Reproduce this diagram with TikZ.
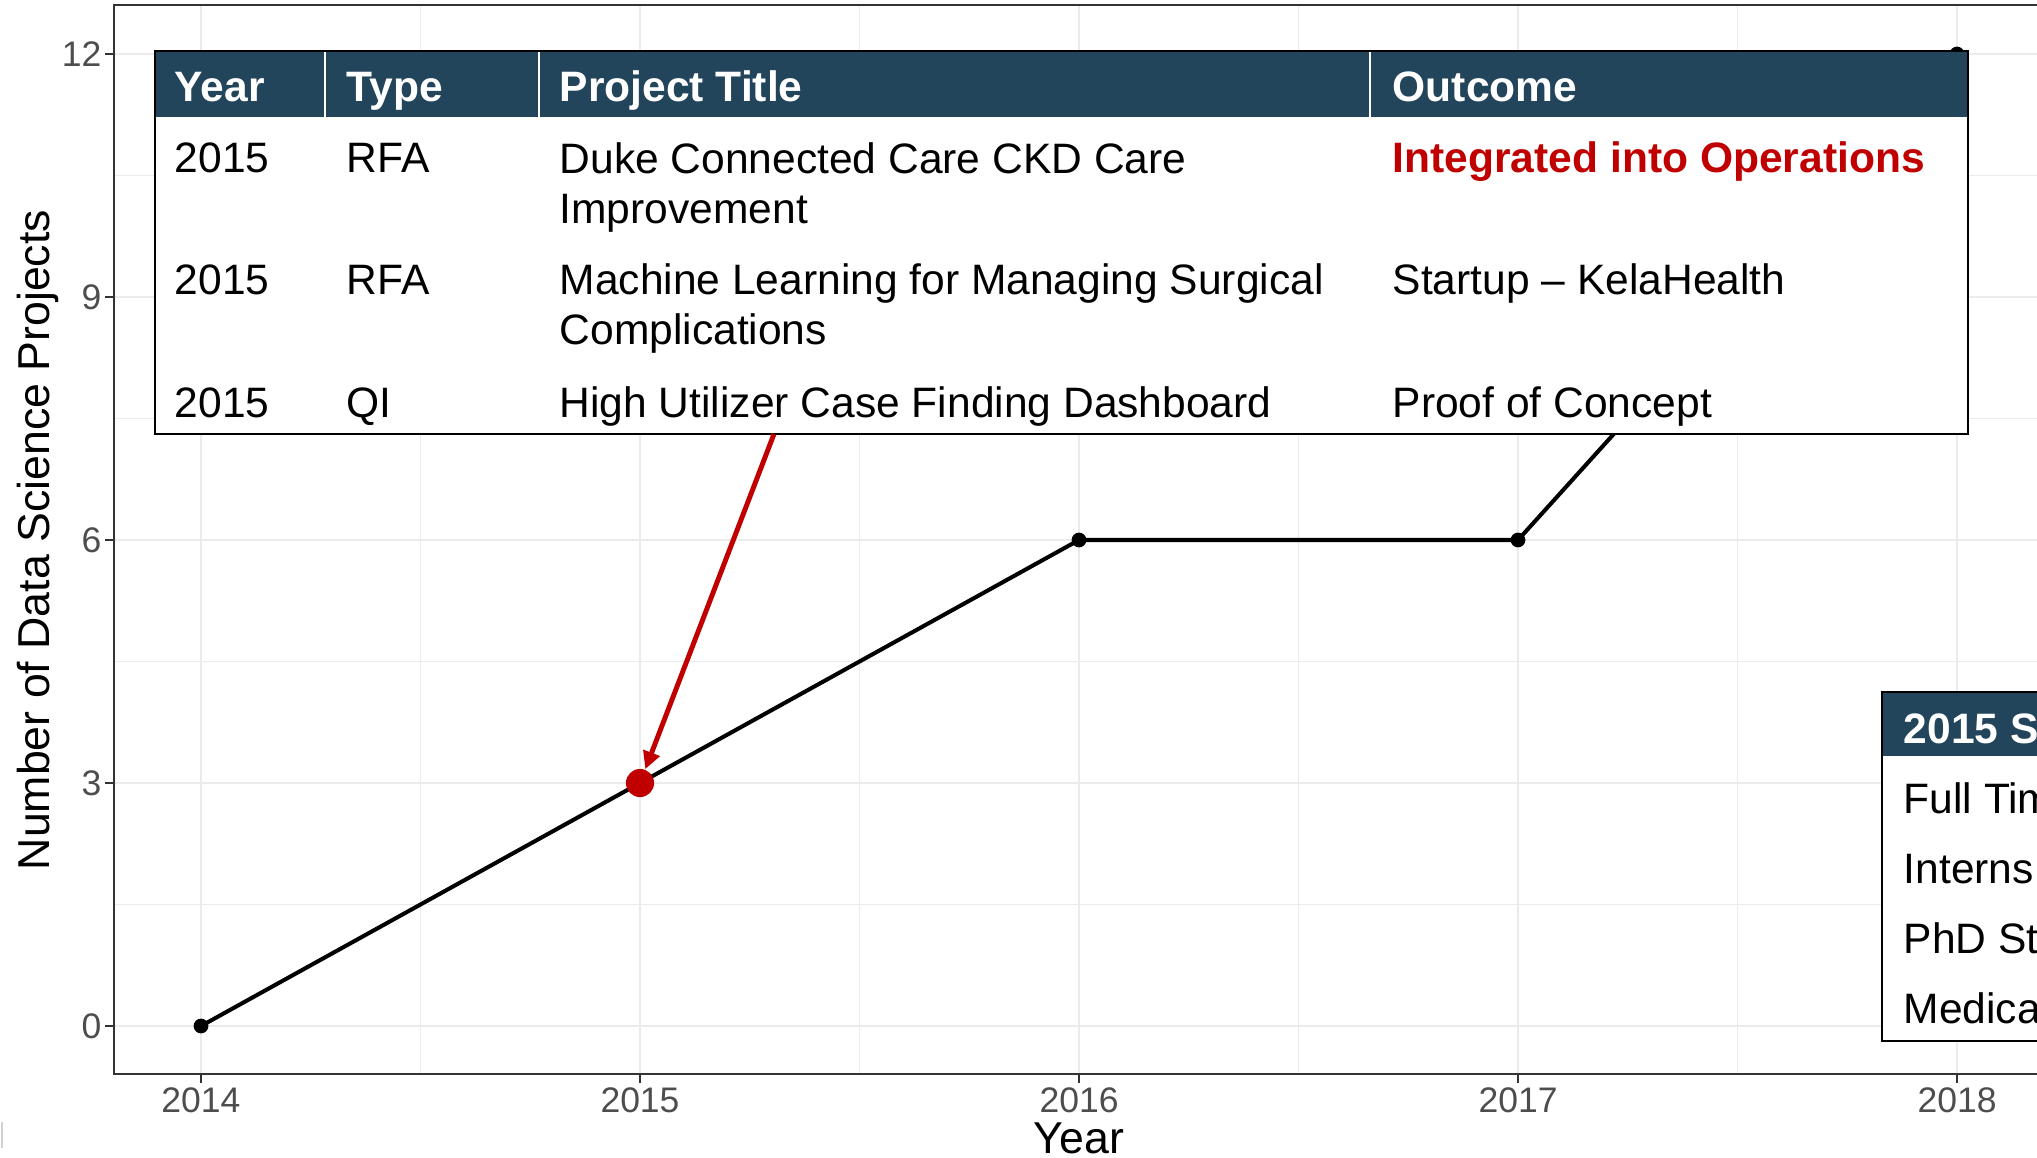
\documentclass[tikz,border=0pt]{standalone}
\usepackage{fontspec}
\setmainfont{Liberation Sans}
\usetikzlibrary{arrows.meta}

\definecolor{hdrblue}{RGB}{34,69,92}
\definecolor{hired}{RGB}{192,0,0}
\definecolor{gridgray}{RGB}{235,235,235}
\definecolor{axisgray}{RGB}{77,77,77}
\definecolor{framegray}{RGB}{51,51,51}

\tikzset{
  majorgrid/.style={gridgray, line width=0.55pt},
  minorgrid/.style={gridgray, line width=0.3pt},
  dataline/.style={black, line width=1.15pt},
  datadot/.style={circle, fill=black, inner sep=0pt, minimum size=4.2pt},
  hidot/.style={circle, fill=hired, inner sep=0pt, minimum size=8pt},
  cell/.style={anchor=base west, inner sep=0pt, align=left,
    font=\fontsize{12.1}{14.5}\selectfont},
  headcell/.style={cell, text=white, font=\fontsize{12.1}{14.5}\selectfont\bfseries},
  ticklab/.style={text=axisgray, inner sep=0pt, font=\fontsize{10.1}{12}\selectfont},
  axistitle/.style={inner sep=0pt, font=\fontsize{12.7}{15}\selectfont},
}

\begin{document}
\begin{tikzpicture}[x=0.01cm, y=-0.01cm]
  \useasboundingbox (0,0) rectangle (2037,1158);

  % grid
  \foreach \gx in {420.5, 859.5, 1298.5, 1737.5}
    \draw[minorgrid] (\gx,5) -- (\gx,1074);
  \foreach \gy in {904.5, 661.5, 418.5, 175.5}
    \draw[minorgrid] (114,\gy) -- (2050,\gy);
  \foreach \yr [evaluate=\yr as \gx using 201+439*(\yr-2014)] in {2014,...,2018} {
    \draw[majorgrid] (\gx,5) -- (\gx,1074);
    \draw[framegray, line width=0.55pt] (\gx,1074) -- (\gx,1083);
    \node[ticklab, anchor=base] (xt\yr) at (\gx,1112) {\yr};
  }
  \foreach \cnt [evaluate=\cnt as \gy using 1026-81*\cnt] in {0,3,...,12} {
    \draw[majorgrid] (114,\gy) -- (2050,\gy);
    \draw[framegray, line width=0.55pt] (105,\gy) -- (114,\gy);
    \node[ticklab, anchor=east] (yt\cnt) at (102,\gy) {\cnt};
  }
  \draw[framegray, line width=0.6pt] (114,5) rectangle (2050,1074);

  % axis titles
  \node[axistitle, anchor=base] (xtitle) at (1079,1153) {Year};
  \node[axistitle, rotate=90, anchor=base] (ytitle) at (49,540) {Number of Data Science Projects};
  \draw[gray!35, line width=0.6pt] (2,1122) -- (2,1148);

  % data
  \node[datadot] (p14) at (201,1026) {};
  \node[datadot] (p15) at (640,783) {};
  \node[datadot] (p16) at (1079,540) {};
  \node[datadot] (p17) at (1518,540) {};
  \node[datadot] (p18) at (1957,54) {};
  \draw[dataline] (p14.center) -- (p15.center) -- (p16.center) -- (p17.center) -- (p18.center);

  % project table
  \fill[white] (155,51) rectangle (1968,434);
  \fill[hdrblue] (155,51) rectangle (1968,117);
  \foreach \sx in {325,539,1370}
    \draw[white, line width=0.6pt] (\sx,51) -- (\sx,117);
  \draw[black, line width=0.8pt] (155,51) rectangle (1968,434);

  \node[headcell] (hyear) at (174,102) {Year};
  \node[headcell] (htype) at (346,102) {Type};
  \node[headcell] (htitle) at (559,102) {Project Title};
  \node[headcell] (hout) at (1392,102) {Outcome};

  \node[cell] (ayear) at (174,173) {2015};
  \node[cell] (atype) at (346,173) {RFA};
  \node[cell] (atitle) at (559,224) {Duke Connected Care CKD Care\\Improvement};
  \node[cell, text=hired, font=\fontsize{12.1}{14.5}\selectfont\bfseries] (aout) at (1392,173) {Integrated into Operations};

  \node[cell] (byear) at (174,295) {2015};
  \node[cell] (btype) at (346,295) {RFA};
  \node[cell] (btitle) at (559,345) {Machine Learning for Managing Surgical\\Complications};
  \node[cell] (bout) at (1392,295) {Startup -- KelaHealth};

  \node[cell] (cyear) at (174,417) {2015};
  \node[cell] (ctype) at (346,417) {QI};
  \node[cell] (ctitle) at (559,417) {High Utilizer Case Finding Dashboard};
  \node[cell] (cout) at (1392,417) {Proof of Concept};

  % staff table
  \fill[white] (1882,692) rectangle (2050,1041);
  \fill[hdrblue] (1882,692) rectangle (2050,756);
  \draw[black, line width=0.8pt] (1882,692) rectangle (2060,1041);
  \node[headcell] (shead) at (1903,743) {2015 S};
  \node[cell] (sfull) at (1903,813) {Full Tim};
  \node[cell] (sint) at (1903,883) {Interns};
  \node[cell] (sphd) at (1903,953) {PhD St};
  \node[cell] (smed) at (1903,1023) {Medica};

  % highlight
  \coordinate (arrstart) at (774,434);
  \node[hidot] (hl) at (p15) {};
  \draw[hired, line width=1.4pt, -{Triangle[length=5pt, width=4.8pt]}] (arrstart) -- (hl);
\end{tikzpicture}
\end{document}
